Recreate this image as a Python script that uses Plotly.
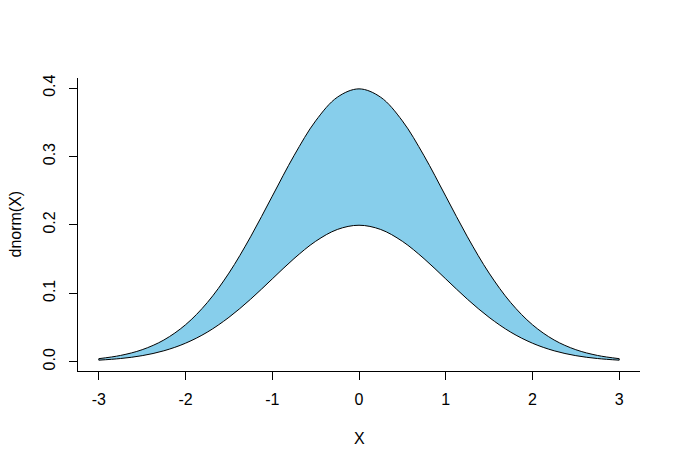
import plotly.graph_objects as go

# x positions and values
x_vals = [-3.0, -2.75, -2.5, -2.25, -2.0, -1.75, -1.5, -1.25, -1.0, -0.75, -0.5, -0.25,
          0.0, 0.25, 0.5, 0.75, 1.0, 1.25, 1.5, 1.75, 2.0, 2.25, 2.5, 2.75, 3.0]
upper = [0.0044, 0.0091, 0.0175, 0.0317, 0.0540, 0.0863, 0.1295, 0.1826, 0.2420, 0.3011,
         0.3521, 0.3867, 0.3989, 0.3867, 0.3521, 0.3011, 0.2420, 0.1826, 0.1295, 0.0863,
         0.0540, 0.0317, 0.0175, 0.0091, 0.0044]
lower = [0.0022, 0.0046, 0.0088, 0.0159, 0.0270, 0.0431, 0.0648, 0.0913, 0.1210, 0.1506,
         0.1760, 0.1933, 0.1995, 0.1933, 0.1760, 0.1506, 0.1210, 0.0913, 0.0648, 0.0431,
         0.0270, 0.0159, 0.0088, 0.0046, 0.0022]
x_ticks = [-3, -2, -1, 0, 1, 2, 3]
y_ticks = [0.0, 0.1, 0.2, 0.3, 0.4]
y_tick_text = ["0.0", "0.1", "0.2", "0.3", "0.4"]

fig = go.Figure()
# lower curve (boundary)
fig.add_trace(go.Scatter(
    x=x_vals, y=lower, mode="lines",
    line=dict(color="black", width=1, shape="spline", smoothing=1.0),
    hoverinfo="skip", showlegend=False))
# upper curve, filled down to the lower curve
fig.add_trace(go.Scatter(
    x=x_vals, y=upper, mode="lines", fill="tonexty", fillcolor="#87CEEB",
    line=dict(color="black", width=1, shape="spline", smoothing=1.0),
    hoverinfo="skip", showlegend=False))
# end edges of the polygon
fig.add_trace(go.Scatter(
    x=[x_vals[0], x_vals[0], None, x_vals[-1], x_vals[-1]],
    y=[lower[0], upper[0], None, lower[-1], upper[-1]], mode="lines",
    line=dict(color="black", width=1), hoverinfo="skip", showlegend=False))

font = dict(family="Liberation Sans, Arial, sans-serif", size=16, color="black")

fig.update_layout(
    width=681, height=468,
    margin=dict(l=78, r=41, t=78, b=97, autoexpand=False),
    paper_bgcolor="white", plot_bgcolor="white",
    font=font,
    showlegend=False,
    xaxis=dict(range=[-3.24, 3.24], tickvals=x_ticks, ticktext=[str(v) for v in x_ticks],
               showgrid=False, zeroline=False, showline=True, linecolor="black", linewidth=1,
               ticks="outside", ticklen=8, tickcolor="black", tickwidth=1, automargin=False,
               ticklabelstandoff=6, tickfont=font),
    yaxis=dict(range=[-0.01365, 0.4148], tickvals=y_ticks, ticktext=y_tick_text,
               showgrid=False, zeroline=False, showline=True, linecolor="black", linewidth=1,
               ticks="outside", ticklen=8, tickcolor="black", tickwidth=1, automargin=False,
               tickangle=-90, ticklabelstandoff=8, tickfont=font),
    annotations=[
        dict(text="X", x=0.5, y=0, xref="paper", yref="paper", showarrow=False,
             xanchor="center", yanchor="middle", yshift=-67, font=font),
        dict(text="dnorm(X)", x=0, y=0.5, xref="paper", yref="paper", showarrow=False,
             xanchor="center", yanchor="middle", xshift=-63, textangle=-90, font=font),
    ],
)

fig.write_html("out.html", config={"displayModeBar": False},
               post_script="document.body.style.margin='0';document.body.style.overflow='hidden';")
